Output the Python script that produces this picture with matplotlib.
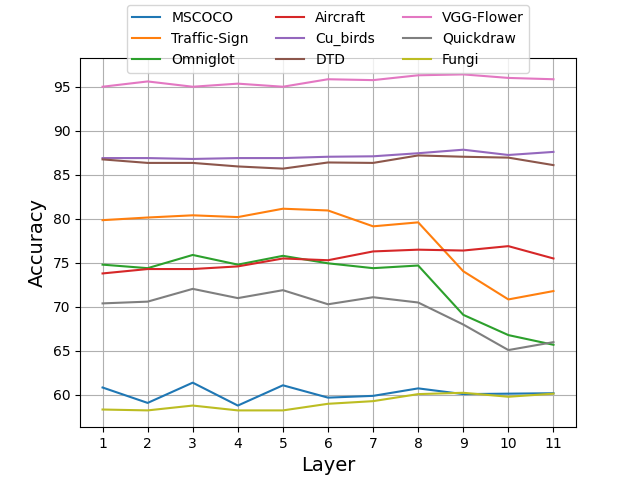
import matplotlib
matplotlib.use('Agg')
import matplotlib.pyplot as plt

layers = list(range(1, 12))

mscoco = [60.85, 59.1, 61.4, 58.8, 61.1, 59.7, 59.9, 60.75, 60.1, 60.15, 60.2]
traffic_sign = [79.85, 80.15, 80.4, 80.2, 81.15, 80.95, 79.15, 79.6, 74.05, 70.85, 71.8]
omniglot = [74.8, 74.4, 75.9, 74.8, 75.8, 74.95, 74.4, 74.7, 69.1, 66.8, 65.7]
aircraft = [73.8, 74.3, 74.3, 74.6, 75.5, 75.3, 76.3, 76.5, 76.4, 76.9, 75.5]
cu_birds = [86.9, 86.9, 86.8, 86.9, 86.9, 87.05, 87.1, 87.45, 87.85, 87.25, 87.6]
dtd = [86.75, 86.35, 86.35, 85.95, 85.7, 86.4, 86.35, 87.2, 87.05, 86.95, 86.1]
vgg_flower = [95.0, 95.6, 95.0, 95.35, 95.0, 95.85, 95.75, 96.3, 96.4, 96.0, 95.85]
quickdraw = [70.4, 70.6, 72.05, 71.0, 71.9, 70.3, 71.1, 70.5, 68.0, 65.1, 66.0]
fungi = [58.35, 58.25, 58.8, 58.25, 58.25, 59.0, 59.3, 60.1, 60.25, 59.8, 60.15]

series = [("MSCOCO", mscoco), ("Traffic-Sign", traffic_sign), ("Omniglot", omniglot),
          ("Aircraft", aircraft), ("Cu_birds", cu_birds), ("DTD", dtd),
          ("VGG-Flower", vgg_flower), ("Quickdraw", quickdraw), ("Fungi", fungi)]

fig, ax = plt.subplots(figsize=(6.4, 4.8), dpi=100)
for name, vals in series:
    ax.plot(layers, vals, label=name)

ax.set_xticks(layers)
ax.grid(True)
ax.set_xlabel('Layer', fontsize=14)
ax.set_ylabel('Accuracy', fontsize=14)
ax.legend(loc='upper center', bbox_to_anchor=(0.5, 1.16), ncol=3)

fig.savefig('out.png')
